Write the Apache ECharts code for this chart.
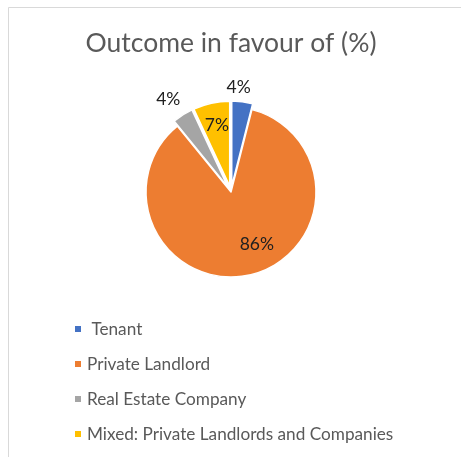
<!DOCTYPE html>
<html>
<head>
<meta charset="utf-8">
<script src="https://cdn.jsdelivr.net/npm/echarts@6/dist/echarts.min.js"></script>
<style>
  html, body { margin: 0; padding: 0; background: #ffffff; }
  #chart { width: 461px; height: 457px; }
</style>
</head>
<body>
<div id="chart"></div>
<script>
// Outcome shares, in percent
const categories = ['Tenant', 'Private Landlord', 'Real Estate Company', 'Mixed: Private Landlords and Companies'];
const shares = [4, 86, 4, 7];
const colors = ['#4472C4', '#ED7D31', '#A5A5A5', '#FFC000'];

// Slices pulled out of the pie, and where each value label sits
const pulledOut = [true, false, true, true];
const labelPlacement = ['outside', 'inside', 'outside', 'inside'];
const labelShift = [[-22, -4], [16, 8], [8, -7], [-3, -16]];

const FONT = 'Lato, "Open Sans", sans-serif';

const chart = echarts.init(document.getElementById('chart'), null, { renderer: 'canvas' });

const pieData = categories.map((name, i) => ({
  name: name,
  value: shares[i],
  selected: pulledOut[i],
  itemStyle: { color: colors[i] },
  label: { position: labelPlacement[i] }
}));

chart.setOption({
  animation: false,
  backgroundColor: '#ffffff',
  title: {
    text: 'Outcome in favour of (%)',
    left: 226,
    top: 25,
    textAlign: 'center',
    textStyle: { fontFamily: FONT, fontSize: 26.5, fontWeight: 'normal', color: '#595959' }
  },
  legend: {
    orient: 'vertical',
    left: 73,
    top: 319,
    padding: 0,
    icon: 'rect',
    itemWidth: 8,
    itemHeight: 8,
    itemGap: 15,
    selectedMode: false,
    formatter: name => name === 'Tenant' ? ' ' + name : name,
    textStyle: { fontFamily: FONT, fontSize: 17.2, color: '#595959', lineHeight: 20 }
  },
  graphic: [{
    type: 'polyline',
    shape: { points: [[8.5, 457], [8.5, 7.5], [461, 7.5]] },
    style: { stroke: '#d9d9d9', lineWidth: 1, fill: null },
    silent: true
  }],
  series: [{
    type: 'pie',
    center: [231, 192],
    radius: 85,
    startAngle: 90,
    clockwise: true,
    selectedMode: 'multiple',
    selectedOffset: 6,
    avoidLabelOverlap: false,
    emphasis: { disabled: true },
    select: { itemStyle: { borderColor: '#ffffff', borderWidth: 1.5 } },
    itemStyle: { borderColor: '#ffffff', borderWidth: 1.5 },
    label: {
      show: true,
      formatter: '{c}%',
      fontFamily: FONT,
      fontSize: 17.5,
      color: '#202020'
    },
    labelLine: { show: false, length: 10, length2: 0 },
    labelLayout: params => ({ dx: labelShift[params.dataIndex][0], dy: labelShift[params.dataIndex][1] }),
    data: pieData
  }]
});
</script>
</body>
</html>
